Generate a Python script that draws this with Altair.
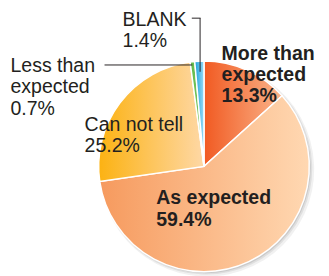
import altair as alt
import pandas as pd

categories = ["More than expected", "As expected", "Can not tell", "Less than expected", "BLANK"]
names = ["More than\nexpected", "As expected", "Can not tell", "Less than\nexpected", "BLANK"]
values = [13.3, 59.4, 25.2, 0.7, 1.4]
order = [1, 2, 3, 4, 5]

df = pd.DataFrame({"category": categories, "name": names, "value": values, "order": order})

FONT = "Liberation Sans"
CX, CY, R = 201, 159, 108

base = alt.Chart(df).transform_window(
    cum="sum(value)", sort=[alt.SortField("order")], frame=[None, 0]
).transform_calculate(start="datum.cum - datum.value")

theta = alt.Theta("start:Q", scale=alt.Scale(domain=[0, 100]))
theta2 = alt.Theta2("cum:Q")


def grad(c1, c2):
    return alt.LinearGradient(
        gradient="linear",
        stops=[alt.GradientStop(color=c1, offset=0), alt.GradientStop(color=c2, offset=1)],
        x1=0, x2=1, y1=0, y2=0,
    )


fills = {
    "More than expected": grad("#F15A22", "#FAB48A"),
    "As expected": grad("#F69A5E", "#FFD8B2"),
    "Can not tell": grad("#FCB212", "#FED8A6"),
    "Less than expected": grad("#5DB846", "#8FCF6E"),
    "BLANK": grad("#169FDB", "#9ADCF6"),
}

layers = []
# soft shadow
for dx, rr, op in [(3, R + 2, 0.10), (2, R + 1, 0.15), (1.5, R, 0.2)]:
    layers.append(
        base.mark_arc(radius=rr, fill="#7a7a7a", opacity=op).encode(
            theta=theta, theta2=theta2, x=alt.value(CX + dx), y=alt.value(CY + dx)
        )
    )

for cat in categories:
    layers.append(
        base.transform_filter(alt.datum.category == cat)
        .mark_arc(radius=R, fill=fills[cat], stroke="white", strokeWidth=1.5)
        .encode(theta=theta, theta2=theta2, x=alt.value(CX), y=alt.value(CY))
    )

label_pos = {
    "More than expected": (219, 49.5, "bold"),
    "As expected": (152, 198, "bold"),
    "Can not tell": (78.5, 122.7, "normal"),
    "Less than expected": (2.5, 62, "normal"),
    "BLANK": (117.5, 14.7, "normal"),
}

for cat in categories:
    x, y, w = label_pos[cat]
    layers.append(
        alt.Chart(df)
        .transform_filter(alt.datum.category == cat)
        .transform_calculate(label="datum.name + '\\n' + format(datum.value, '.1f') + '%'")
        .mark_text(
            align="left", baseline="alphabetic", font=FONT, fontSize=20,
            fontWeight=w, color="#231F20", lineBreak="\n", lineHeight=22,
        )
        .encode(text="label:N", x=alt.value(x), y=alt.value(y))
    )

one = alt.Data(values=[{"k": 1}])
rule_style = dict(color="#231F20", strokeWidth=1)
layers.append(alt.Chart(one).mark_rule(**rule_style).encode(
    x=alt.value(99), x2=alt.value(189), y=alt.value(55), y2=alt.value(55)))
layers.append(alt.Chart(one).mark_rule(**rule_style).encode(
    x=alt.value(188.5), x2=alt.value(197.5), y=alt.value(7), y2=alt.value(7)))
layers.append(alt.Chart(one).mark_rule(**rule_style).encode(
    x=alt.value(197), x2=alt.value(197), y=alt.value(7), y2=alt.value(62)))

chart = alt.layer(*layers).properties(
    width=321, height=268, padding=0, autosize="none"
).configure_view(strokeWidth=0)

chart.save("out.html", embed_options={"renderer": "svg", "actions": False})
